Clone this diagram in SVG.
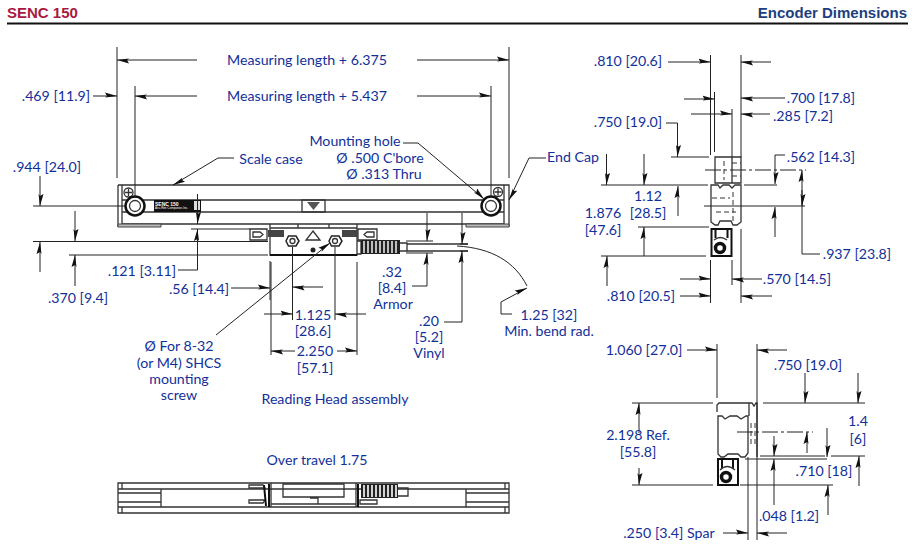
<svg xmlns="http://www.w3.org/2000/svg" width="914" height="557" viewBox="0 0 914 557">
<style>
text{font-family:"Lato","Open Sans",sans-serif;font-size:14.200px;fill:#12309a;text-anchor:middle}
.h{font-family:"Liberation Sans",Arial,sans-serif;font-weight:bold;font-size:15px}
.d path,.x{fill:none;stroke:#222;stroke-width:1}
.d .a{marker-end:url(#a)}
.o{fill:none;stroke:#333;stroke-width:1.300}
.t{fill:none;stroke:#111;stroke-width:2}
.g{fill:#bbb;stroke:#444;stroke-width:1}
.m{fill:none;stroke:#333;stroke-width:1;stroke-dasharray:5 3}
.c{fill:none;stroke:#333;stroke-width:1;stroke-dasharray:16 3 3 3}
.w{fill:#fff;stroke:#222;stroke-width:1.500}
.k{fill:#fff;stroke:#111;stroke-width:2.500}
.l{font-family:"Liberation Sans",sans-serif;fill:#fff;text-anchor:start}
</style>
<defs>
<marker id="a" markerUnits="userSpaceOnUse" markerWidth="14" markerHeight="8" refX="12" refY="4" orient="auto"><path d="M0,0.500 L12,4 L0,5.500 L2,4 z" fill="#111"/></marker>
</defs>
<rect width="914" height="557" fill="#fff"/>
<g id="header">
<text class="h" x="7" y="18" style="text-anchor:start;fill:#a8193f">SENC 150</text>
<text class="h" x="907" y="18" style="text-anchor:end;fill:#1c3f80">Encoder Dimensions</text>
<path d="M7,23.500H908" stroke="#111" stroke-width="2" fill="none"/>
</g>
<g id="scale-front">
<path class="o" d="M122,185H504V224H122z M122,200H504 M122,212H504 M118,185H122 M118,185V227 M504,185H509V227"/>
<path class="g" d="M118,224H161V227H118z M466,224H509V227H466z"/>
<circle class="o" cx="128.500" cy="192.500" r="4.500"/><path class="o" d="M125,192.500H132 M128.500,189V196"/>
<circle class="o" cx="498" cy="192" r="4.500"/><path class="o" d="M494.500,192H501.500 M498,188.500V195.500"/>
<circle class="k" cx="135" cy="206" r="9.500"/><circle class="o" cx="135" cy="206" r="5.500"/>
<circle class="k" cx="491" cy="206" r="9.500"/><circle class="o" cx="491" cy="206" r="5.500"/>
<rect x="154" y="200" width="47" height="12" fill="#111"/>
<text class="l" x="155" y="205.500" style="font-size:5px;font-weight:bold">SENC 150</text>
<text class="l" x="155" y="209" style="font-size:3px">Acu-Rite Companies Inc.</text>
<rect x="194" y="201" width="6" height="9" fill="#ddd"/>
<rect class="o" x="302" y="200" width="23" height="12"/><path d="M307,202H320L313.500,210z" fill="#555"/>
</g>
<g id="reading-head">
<path class="o" d="M270,224V255H357V224 M298,224V228H329V224 M270,228H357"/>
<path class="o" d="M250,229H267V240H250z M253,232H260L263,234.500L260,237H253z"/>
<path class="o" d="M358,229H377V240H358z M374,232H367L364,234.500L367,237H374z"/>
<path d="M268,230H284V237H268z M342,230H358V237H342z" fill="#444"/>
<path class="t" d="M270,255H357" />
<path class="o" d="M313,231L320,240H306z"/>
<circle cx="313" cy="250" r="2.500" fill="#222"/>
<path class="w" d="M286,241L288.500,236H296L299,241L296,246H288.500z M329,241L331.500,236H339L342,241L339,246H331.500z"/>
<circle class="o" cx="292.500" cy="241" r="2.500"/><circle class="o" cx="335" cy="241" r="2.500"/>
<path d="M357,241H361V254H357" class="o"/>
<rect x="361" y="240" width="39" height="14" fill="#222"/>
<path d="M364,241V253 M368,241V253 M372,241V253 M376,241V253 M380,241V253 M384,241V253 M388,241V253 M392,241V253 M396,241V253" stroke="#fff" stroke-width="1.400" fill="none"/>
<path class="o" d="M400,243H407V251H400"/>
<path class="o" d="M407,244H468 M407,251H468"/>
<path class="x" d="M457,246C492,248 515,262 527,286"/>
</g>
<g id="side-view-top">
<path class="o" d="M715,157H741V183H715z M732,157V183"/>
<path class="m" d="M724,161V180 M732,163H741 M732,176H741"/>
<path class="o" d="M711,185H718L720,188L723,185H729L732,188L735,185H741V222L737,225H733L731,221H720L718,225H715L711,222z"/>
<path class="m" d="M712,198H730 M716,212H736 M733,192V222"/>
<path class="k" d="M711.500,229H731.500V256H711.500z" style="stroke-width:2"/>
<path class="t" d="M715.500,229V238 M727.500,229V238"/>
<path class="o" d="M714,240Q720,235 727,240"/>
<circle cx="720" cy="248" r="4.500" fill="none" stroke="#111" stroke-width="3.500"/>
</g>
<g id="side-view-bottom">
<path class="o" d="M717,412V405L719,403H752L754,406L756,403H757V457 M749,403V416"/>
<path class="o" d="M718,416H722L725,419L730,416H737L741,419L746,416H748V453L745,457H741L738,454H728L724,457H721L718,454z"/>
<path class="m" d="M751,423V447 M755,423V447"/>
<path class="k" d="M718,459H738V485H718z" style="stroke-width:2"/>
<path class="t" d="M722,459V468 M733,459V468"/>
<path class="o" d="M720,470Q727,463 735,470"/>
<circle cx="726" cy="477" r="4.500" fill="none" stroke="#111" stroke-width="3.500"/>
</g>
<g id="over-travel">
<path class="o" d="M118,483H509V513H118z M122,483V489 M122,507V513 M505,483V489 M505,507V513 M118,489H509 M118,507H509"/>
<path class="o" d="M118,493H161 M118,502H161 M161,489V507 M466,489V507 M466,493H509 M466,502H509"/>
<path class="o" d="M249,485H263L265,488H249z M249,500H265L263,503H249z M271,483V507 M356,483V507 M271,504H356 M283,484H344V497H283z M310,498H318V504 M360,500H377V504H360z"/>
<path class="t" d="M264,485L266,506 M269,484V507 M358,484V507"/>
<rect x="361" y="484" width="37" height="14" fill="#222"/>
<path d="M364,485V497 M368,485V497 M372,485V497 M376,485V497 M380,485V497 M384,485V497 M388,485V497 M392,485V497 M396,485V497" stroke="#fff" stroke-width="1.600" fill="none"/>
<path class="o" d="M398,488H408V496H398"/>
</g>
<g id="connectors" class="d">
<path d="M117,47V178 M509,47V178 M135,86V198 M491,86V198 M125,206H33 M33,241.500H268 M69,255H268"/>
<path class="a" d="M197,60H117"/><path class="a" d="M417,60H509"/>
<path class="a" d="M197,96H135"/><path class="a" d="M417,96H491"/><path class="a" d="M93,96H117"/>
<path class="a" d="M234,158H218L173,185"/>
<path class="a" d="M403,143H418L484,199"/>
<path class="a" d="M546,158H529L509,200"/>
<path class="a" d="M40,176V206"/><path class="a" d="M75,211V241"/><path class="a" d="M40,272V242"/><path class="a" d="M75,286V255"/>
<path d="M191,229H250"/><path class="a" d="M197.500,194V224"/><path class="a" d="M178,270H197.500V229"/>
<path d="M270,261V300"/><path class="a" d="M231,288H270"/>
<path d="M406,241H433 M406,253H433 M460,244H468 M460,251H468 M292.500,247V320 M335,247V320 M271,262V355 M357,262V355"/>
<path class="a" d="M427,213V241"/><path class="a" d="M412,286H427V253"/>
<path class="a" d="M462,213V244"/><path class="a" d="M444,322H462V251"/>
<path class="a" d="M512,314H501V302L527,288"/>
<path class="a" d="M323,287H292.500"/><path class="a" d="M264,314H292.500"/><path class="a" d="M366,314H335"/>
<path class="a" d="M295,351H271"/><path class="a" d="M337,351H357"/>
<path class="a" d="M216,335L330,243"/>
<path d="M710.500,55V155 M714.500,92V152 M732,109V157 M741,55V157 M671,157H709 M601,185H708 M744,185H777 M638,227H709 M601,256H706 M704,206H805 M710.500,260V303 M732,260V285 M741,229V303"/>
<path class="c" d="M705,170H806"/>
<path class="a" d="M668,62H710.500"/><path class="a" d="M771,62H741"/>
<path class="a" d="M684,99H714.500"/><path class="a" d="M785,98H741"/>
<path class="a" d="M691,114H732"/><path class="a" d="M770,114H741"/>
<path class="a" d="M666,123H677.500V157"/>
<path class="a" d="M606.500,154V185"/><path class="a" d="M644,154V185"/><path class="a" d="M678,216V186"/>
<path class="a" d="M644,256V227"/><path class="a" d="M607,286V256"/>
<path class="a" d="M785,155H775V184"/><path class="a" d="M775,237V207"/>
<path class="a" d="M820,254H802V170"/><path class="a" d="M802,190V206"/>
<path class="a" d="M680,279H710.500"/><path class="a" d="M762,279H732"/><path class="a" d="M680,296H710.500"/><path class="a" d="M772,296H741"/>
<path d="M717,344V398 M757,344V540 M748,457V540 M763,403H865 M632,403H713 M632,485H713 M760,456H825 M831,456H865 M745,459H827 M740,485H833"/>
<path class="c" d="M737,432H813"/>
<path class="a" d="M687,350H717"/><path class="a" d="M787,350H757"/>
<path class="a" d="M805,373V403"/><path class="a" d="M858,373V403"/>
<path class="a" d="M639,433V403"/><path class="a" d="M639,468V485"/>
<path class="a" d="M807,453V432"/><path class="a" d="M827,428V457"/>
<path class="a" d="M774,436V456"/><path class="a" d="M774,505V459"/>
<path class="a" d="M828,515V485"/><path class="a" d="M859,486V456"/>
<path class="a" d="M723,533H748"/><path class="a" d="M787,533H757"/>
</g>
<g id="labels">
<text x="307" y="65">Measuring length + 6.375</text>
<text x="307" y="101">Measuring length + 5.437</text>
<text x="56" y="101">.469 [11.9]</text>
<text x="47" y="172">.944 [24.0]</text>
<text x="271" y="164">Scale case</text>
<text x="355" y="146">Mounting hole</text>
<text x="380" y="163">Ø .500 C'bore</text>
<text x="384" y="179">Ø .313 Thru</text>
<text x="573" y="162">End Cap</text>
<text x="142" y="276">.121 [3.11]</text>
<text x="199" y="294">.56 [14.4]</text>
<text x="78" y="303">.370 [9.4]</text>
<text x="313" y="320">1.125</text><text x="313" y="336">[28.6]</text>
<text x="315" y="356">2.250</text><text x="315" y="373">[57.1]</text>
<text x="392" y="277">.32</text><text x="392" y="293">[8.4]</text><text x="393" y="309">Armor</text>
<text x="429" y="326">.20</text><text x="429" y="342">[5.2]</text><text x="429" y="358">Vinyl</text>
<text x="549" y="320">1.25 [32]</text><text x="549" y="336">Min. bend rad.</text>
<text x="179" y="351">Ø For 8-32</text><text x="179" y="368">(or M4) SHCS</text><text x="179" y="384">mounting</text><text x="179" y="400">screw</text>
<text x="335" y="404">Reading Head assembly</text>
<text x="317" y="465">Over travel 1.75</text>
<text x="628" y="66">.810 [20.6]</text>
<text x="821" y="103">.700 [17.8]</text>
<text x="803" y="121">.285 [7.2]</text>
<text x="628" y="127">.750 [19.0]</text>
<text x="821" y="162">.562 [14.3]</text>
<text x="648" y="201">1.12</text><text x="648" y="218">[28.5]</text>
<text x="603" y="218">1.876</text><text x="603" y="235">[47.6]</text>
<text x="857" y="259">.937 [23.8]</text>
<text x="797" y="284">.570 [14.5]</text>
<text x="641" y="301">.810 [20.5]</text>
<text x="644" y="355">1.060 [27.0]</text>
<text x="808" y="370">.750 [19.0]</text>
<text x="858" y="426">1.4</text><text x="858" y="444">[6]</text>
<text x="638" y="440">2.198 Ref.</text><text x="638" y="457">[55.8]</text>
<text x="824" y="476">.710 [18]</text>
<text x="789" y="521">.048 [1.2]</text>
<text x="669" y="538">.250 [3.4] Spar</text>
</g>
</svg>
